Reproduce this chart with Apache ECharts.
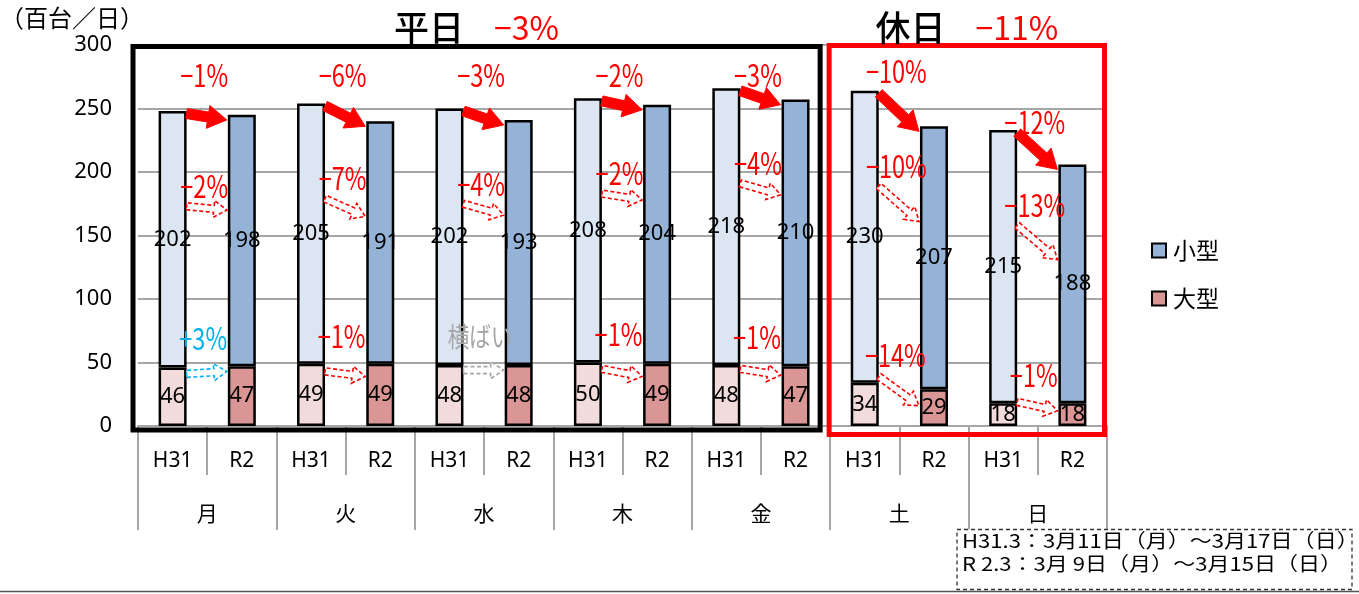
<!DOCTYPE html>
<html><head><meta charset="utf-8">
<script src="https://cdn.jsdelivr.net/npm/echarts@6/dist/echarts.min.js"></script>
<style>html,body{margin:0;padding:0;background:#fff}#c{width:1359px;height:594px}</style>
</head><body><div id="c"></div>
<script>
// ---- data ----
const days = ['月','火','水','木','金','土','日'];
const periods = ['H31','R2'];
const largeH31 = [46,49,48,50,48,34,18];
const largeR2  = [47,49,48,49,47,29,18];
const smallH31 = [202,205,202,208,218,230,215];
const smallR2  = [198,191,193,204,210,207,188];
const totalPct = ['−1%','−6%','−3%','−2%','−3%','−10%','−12%'];
const smallPct = ['−2%','−7%','−4%','−2%','−4%','−10%','−13%'];
const largePct = ['+3%','−1%','横ばい','−1%','−1%','−14%','−1%'];
const yTicks = [0,50,100,150,200,250,300];
const weekdayTitle = ['平日','−3%'];
const holidayTitle = ['休日','−11%'];
const unitText = '（百台／日）';
const notes = ['H31.3：3月11日（月）～3月17日（日）','R 2.3：3月 9日（月）～3月15日（日）'];

// ---- layout (value-space offsets for annotations) ----
const totalLabelAt = [276,276,276,276,276,279,239];
const largeArrowOff = [[-5,-4],[-6,-10],[-4,-4],[-5,-10],[-3,-7],[5,-13],[1,-6]];

const cats = [], largeVals = [], smallVals = [];
days.forEach((d,i)=>{ periods.forEach(p=>cats.push(p)); largeVals.push(largeH31[i],largeR2[i]); smallVals.push(smallH31[i],smallR2[i]); });

const COL = {sL:'#DCE6F2', sD:'#95B3D7', lL:'#F2DCDB', lD:'#DA9694', red:'#FF0000', blue:'#00B0F0', gray:'#A6A6A6'};
const NUMF = "'Noto Sans', 'Noto Sans CJK JP', sans-serif";
const JPF = "'Noto Sans CJK JP', 'Noto Sans', sans-serif";

const chart = echarts.init(document.getElementById('c'));
const lbl = {show:true, position:'inside', color:'#000', fontSize:22, fontFamily:NUMF, textBorderWidth:0};
chart.setOption({
  animation:false,
  backgroundColor:'#fff',
  grid:{left:138, right:252, top:45, bottom:168, outerBoundsMode:'none', containLabel:false},
  legend:{
    orient:'vertical', left:1146, top:234, itemWidth:14, itemHeight:14, itemGap:25, icon:'rect',
    textStyle:{fontSize:23, fontFamily:JPF, color:'#000', padding:[0,0,0,2]},
    data:[
      {name:'小型', itemStyle:{color:COL.sD, borderColor:'#000', borderWidth:2}},
      {name:'大型', itemStyle:{color:COL.lD, borderColor:'#000', borderWidth:2}}
    ]
  },
  xAxis:[
    {type:'category', data:cats, position:'bottom',
     axisLine:{show:true, lineStyle:{color:COL.gray, width:2}},
     axisTick:{show:true, length:49, interval:0, lineStyle:{color:COL.gray, width:2}},
     axisLabel:{interval:0, margin:25, fontSize:21, fontFamily:NUMF, color:'#000'},
     splitLine:{show:false}},
    {type:'category', data:days, position:'bottom',
     axisLine:{show:false},
     axisTick:{show:true, length:104, interval:0, lineStyle:{color:COL.gray, width:2}},
     axisLabel:{interval:0, margin:77, fontSize:21, fontFamily:JPF, color:'#000'},
     splitLine:{show:false}}
  ],
  yAxis:{type:'value', min:yTicks[0], max:yTicks[yTicks.length-1], interval:yTicks[1]-yTicks[0],
    axisLine:{show:false}, axisTick:{show:false},
    axisLabel:{margin:26, fontSize:22, fontFamily:NUMF, color:'#000'},
    splitLine:{show:true, lineStyle:{color:COL.gray, width:2}}},
  series:[
    {name:'大型', type:'bar', stack:'t', barWidth:28, data:largeVals,
     itemStyle:{color:p=>p.dataIndex%2?COL.lD:COL.lL, borderColor:'#000', borderWidth:2.5, borderRadius:0},
     label:lbl, emphasis:{disabled:true}},
    {name:'小型', type:'bar', stack:'t', barWidth:28, data:smallVals,
     itemStyle:{color:p=>p.dataIndex%2?COL.sD:COL.sL, borderColor:'#000', borderWidth:2.5, borderRadius:0},
     label:lbl, emphasis:{disabled:true}}
  ]
});

function px(c,v){ return chart.convertToPixel({xAxisIndex:0,yAxisIndex:0},[c,v]); }
const xc = i => px(i,0)[0];
const cw = xc(1)-xc(0);
const edgeL = i => xc(i)-cw/2;
const yv = v => px(0,v)[1];
const BW = 28;
const y0 = yv(0), yTop = yv(yTicks[yTicks.length-1]);

function arrowPts(x1,y1,x2,y2,sw,hw,hl){
  const dx=x2-x1, dy=y2-y1, L=Math.hypot(dx,dy), ux=dx/L, uy=dy/L, nx=-uy, ny=ux;
  const bx=x2-ux*hl, by=y2-uy*hl;
  return [[x1+nx*sw/2,y1+ny*sw/2],[bx+nx*sw/2,by+ny*sw/2],[bx+nx*hw/2,by+ny*hw/2],[x2,y2],
          [bx-nx*hw/2,by-ny*hw/2],[bx-nx*sw/2,by-ny*sw/2],[x1-nx*sw/2,y1-ny*sw/2]];
}
function colorOf(t){ return t[0]==='+'?COL.blue:(/[0-9]/.test(t)?COL.red:COL.gray); }
function txt(x,y,text,fill,size,sx,font,weight){
  return {type:'text', x:x, y:y, scaleX:sx||1, z:20,
    style:{text:text, fill:fill, fontSize:size, fontFamily:font||JPF, fontWeight:weight||'normal',
      align:'center', verticalAlign:'middle', textAlign:'center', textVerticalAlign:'middle'}};
}
const g = [];
// frames
const bxL = edgeL(0)-5, bxR = edgeL(10)-10;
g.push({type:'rect', z:15, shape:{x:bxL, y:yTop+1.5, width:bxR-bxL, height:(y0+4)-(yTop+1.5)}, style:{fill:'none', stroke:'#000', lineWidth:5}});
const rxL = edgeL(10)-1, rxR = edgeL(14)-2.5;
g.push({type:'rect', z:15, shape:{x:rxL, y:yTop+0.5, width:rxR-rxL, height:(y0+8.5)-(yTop+0.5)}, style:{fill:'none', stroke:COL.red, lineWidth:5}});
// titles
function title(cx, parts){
  return {type:'text', x:cx, y:28, z:20, style:{text:'{a|'+parts[0]+'}{b|'+parts[1]+'}', align:'center', verticalAlign:'middle', textAlign:'center', textVerticalAlign:'middle',
    rich:{a:{fontSize:35, fontFamily:JPF, fill:'#000', color:'#000', fontWeight:500},
          b:{fontSize:32, fontFamily:JPF, fill:COL.red, color:COL.red, padding:[0,0,0,30]}}}};
}
g.push(title((bxL+bxR)/2, weekdayTitle));
g.push(title((rxL+rxR)/2, holidayTitle));
// unit
g.push({type:'text', x:0, y:18, z:20, style:{text:unitText, fill:'#000', fontSize:24, fontFamily:JPF, align:'left', verticalAlign:'middle', textAlign:'left', textVerticalAlign:'middle'}});

days.forEach((d,i)=>{
  const a=2*i, b=2*i+1;
  const xs = xc(a)+BW/2, xe = xc(b)-BW/2-1, xm = edgeL(b);
  const tA = largeH31[i]+smallH31[i], tB = largeR2[i]+smallR2[i];
  // total solid arrow
  g.push({type:'polygon', z:18, shape:{points:arrowPts(xs,yv(tA-2),xe,yv(tB-4),10,23,19)}, style:{fill:COL.red, stroke:COL.red, lineWidth:1}});
  g.push(txt(xm-3, yv(totalLabelAt[i]), totalPct[i], COL.red, 31, 0.76));
  // small dashed arrow
  const sA = tA-75, sB = tB-75;
  const cs = colorOf(smallPct[i]);
  g.push({type:'polygon', z:18, shape:{points:arrowPts(xs,yv(sA),xe,yv(sB),7,17,13)}, style:{fill:'#fff', stroke:cs, lineWidth:1.6, lineDash:[4,2.5]}});
  g.push(txt(xm-3, yv(sA)-20, smallPct[i], cs, 31, 0.76));
  // large dashed arrow
  const lA = largeH31[i]+largeArrowOff[i][0], lB = largeR2[i]+largeArrowOff[i][1];
  const cl = colorOf(largePct[i]);
  g.push({type:'polygon', z:18, shape:{points:arrowPts(xs,yv(lA),xe,yv(lB),7,17,13)}, style:{fill:'#fff', stroke:cl, lineWidth:1.6, lineDash:[4,2.5]}});
  g.push(txt(xm-4, yv(Math.max(largeH31[i],largeR2[i])+22), largePct[i], cl, cl===COL.gray?27:31, cl===COL.gray?0.8:0.76));
});
// footnote
g.push({type:'rect', z:20, shape:{x:957, y:529.5, width:395, height:60}, style:{fill:'#fff', stroke:'#333', lineWidth:1.3, lineDash:[4,3]}});
notes.forEach((t,k)=>{
  g.push({type:'text', x:962, y:541+k*22.5, z:21, scaleX:1.16, style:{text:t, fill:'#000', fontSize:19, fontFamily:JPF, align:'left', verticalAlign:'middle', textAlign:'left', textVerticalAlign:'middle'}});
});
g.push({type:'line', z:5, shape:{x1:0, y1:591.5, x2:1359, y2:591.5}, style:{stroke:'#555', lineWidth:1.5}});
chart.setOption({graphic:{elements:g}});
</script></body></html>
